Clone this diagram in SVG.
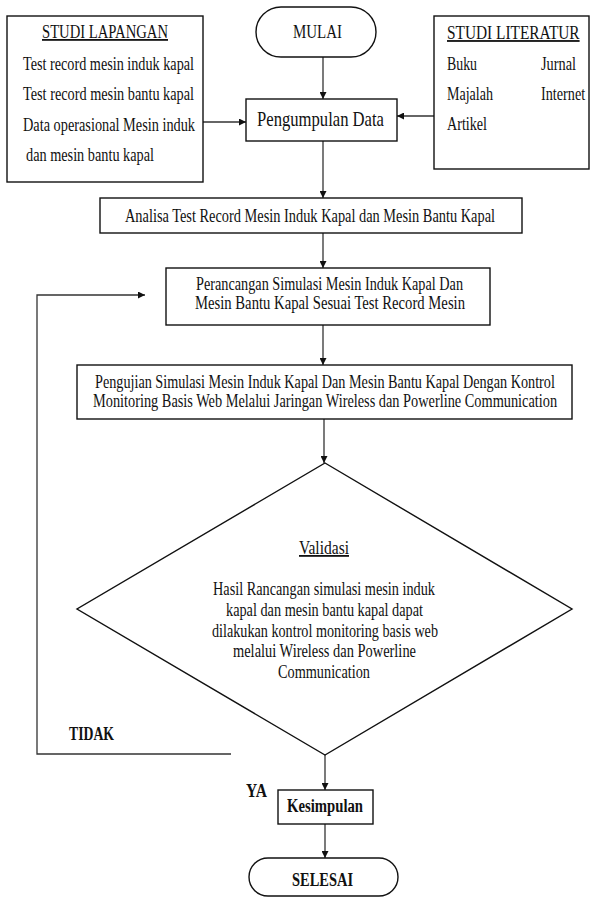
<svg xmlns="http://www.w3.org/2000/svg" width="591" height="897" viewBox="0 0 591 897">
<defs>
<style>
.bx{fill:#fff;stroke:#111;stroke-width:1.4}
.t{font-family:"Liberation Serif","Times New Roman",serif;fill:#111;font-size:18px}
.tb{font-weight:bold}
.u{text-decoration:underline}
.c{stroke:#333;stroke-width:1.3;fill:none}
</style>
<marker id="ah" viewBox="0 0 10 10" refX="10" refY="5" markerWidth="7" markerHeight="7" markerUnits="userSpaceOnUse" orient="auto">
<path d="M0,0 L10,5 L0,10 z" fill="#111"/>
</marker>
</defs>
<rect width="591" height="897" fill="#fff"/>
<g id="connectors">
<line class="c" x1="323" y1="57" x2="323" y2="99" marker-end="url(#ah)"/>
<line class="c" x1="203" y1="122" x2="246" y2="122" marker-end="url(#ah)"/>
<line class="c" x1="434" y1="116" x2="397" y2="116" marker-end="url(#ah)"/>
<line class="c" x1="323" y1="141" x2="323" y2="198" marker-end="url(#ah)"/>
<line class="c" x1="323" y1="233" x2="323" y2="268" marker-end="url(#ah)"/>
<line class="c" x1="323" y1="325" x2="323" y2="365" marker-end="url(#ah)"/>
<line class="c" x1="324" y1="419" x2="324" y2="463" marker-end="url(#ah)"/>
<polyline class="c" points="231,754 37,754 37,295 145,295" marker-end="url(#ah)"/>
<line class="c" x1="325" y1="755" x2="325" y2="790" marker-end="url(#ah)"/>
<line class="c" x1="325" y1="824" x2="325" y2="858" marker-end="url(#ah)"/>
</g>
<g id="studi-lapangan">
<rect class="bx" x="7" y="16" width="196" height="166"/>
<text class="t u" x="42" y="38" textLength="126" lengthAdjust="spacingAndGlyphs">STUDI LAPANGAN</text>
<text class="t" x="23" y="70" textLength="171" lengthAdjust="spacingAndGlyphs">Test record mesin induk kapal</text>
<text class="t" x="23" y="100" textLength="171" lengthAdjust="spacingAndGlyphs">Test record mesin bantu kapal</text>
<text class="t" x="23" y="131" textLength="172" lengthAdjust="spacingAndGlyphs">Data operasional Mesin induk</text>
<text class="t" x="26" y="161" textLength="128" lengthAdjust="spacingAndGlyphs">dan mesin bantu kapal</text>
</g>
<g id="mulai">
<rect class="bx" x="256" y="7" width="120" height="50" rx="25" ry="25"/>
<text class="t" x="293" y="38" textLength="49" lengthAdjust="spacingAndGlyphs">MULAI</text>
</g>
<g id="studi-literatur">
<rect class="bx" x="434" y="16" width="155" height="153"/>
<text class="t u" transform="translate(447,39) scale(0.85,1)" x="0" y="0" textLength="156" lengthAdjust="spacingAndGlyphs">STUDI LITERATUR</text>
<text class="t" x="447" y="70" textLength="30" lengthAdjust="spacingAndGlyphs">Buku</text>
<text class="t" x="541" y="70" textLength="35" lengthAdjust="spacingAndGlyphs">Jurnal</text>
<text class="t" x="447" y="100" textLength="46" lengthAdjust="spacingAndGlyphs">Majalah</text>
<text class="t" transform="translate(541,100) scale(0.85,1)" x="0" y="0" textLength="52" lengthAdjust="spacingAndGlyphs">Internet</text>
<text class="t" x="447" y="130" textLength="40" lengthAdjust="spacingAndGlyphs">Artikel</text>
</g>
<g id="pengumpulan">
<rect class="bx" x="246" y="99" width="151" height="42"/>
<text class="t" x="257" y="126" style="font-size:21px" textLength="127" lengthAdjust="spacingAndGlyphs">Pengumpulan Data</text>
</g>
<g id="analisa">
<rect class="bx" x="100" y="198" width="422" height="35"/>
<text class="t" x="125" y="222" textLength="370" lengthAdjust="spacingAndGlyphs">Analisa Test Record Mesin Induk Kapal dan Mesin Bantu Kapal</text>
</g>
<g id="perancangan">
<rect class="bx" x="166" y="268" width="324" height="57"/>
<text class="t" x="196" y="290" textLength="267" lengthAdjust="spacingAndGlyphs">Perancangan Simulasi Mesin Induk Kapal Dan</text>
<text class="t" x="195" y="309" textLength="270" lengthAdjust="spacingAndGlyphs">Mesin Bantu Kapal Sesuai Test Record Mesin</text>
</g>
<g id="pengujian">
<rect class="bx" x="77" y="365" width="495" height="54"/>
<text class="t" transform="translate(95,388) scale(0.85,1)" x="0" y="0" textLength="541" lengthAdjust="spacingAndGlyphs">Pengujian Simulasi Mesin Induk Kapal Dan Mesin Bantu Kapal Dengan Kontrol</text>
<text class="t" transform="translate(93,407) scale(0.85,1)" x="0" y="0" textLength="546" lengthAdjust="spacingAndGlyphs">Monitoring Basis Web Melalui Jaringan Wireless dan Powerline Communication</text>
</g>
<g id="validasi">
<polygon class="bx" points="325,463 572,609 325,755 77,609"/>
<text class="t u" x="299" y="554" textLength="50" lengthAdjust="spacingAndGlyphs">Validasi</text>
<text class="t" x="213" y="595" textLength="222" lengthAdjust="spacingAndGlyphs">Hasil Rancangan simulasi mesin induk</text>
<text class="t" x="226" y="616" textLength="197" lengthAdjust="spacingAndGlyphs">kapal dan mesin bantu kapal dapat</text>
<text class="t" x="212" y="637" textLength="226" lengthAdjust="spacingAndGlyphs">dilakukan kontrol monitoring basis web</text>
<text class="t" x="233" y="657" textLength="183" lengthAdjust="spacingAndGlyphs">melalui Wireless dan Powerline</text>
<text class="t" x="278" y="678" textLength="92" lengthAdjust="spacingAndGlyphs">Communication</text>
</g>
<g id="label-tidak">
<text class="t tb" x="69" y="740" textLength="45" lengthAdjust="spacingAndGlyphs">TIDAK</text>
</g>
<g id="label-ya">
<text class="t tb" x="246" y="797" textLength="21" lengthAdjust="spacingAndGlyphs">YA</text>
</g>
<g id="kesimpulan">
<rect class="bx" x="278" y="790" width="95" height="34"/>
<text class="t tb" x="287" y="812" textLength="76" lengthAdjust="spacingAndGlyphs">Kesimpulan</text>
</g>
<g id="selesai">
<rect class="bx" x="249" y="858" width="149" height="38" rx="19" ry="19"/>
<text class="t tb" x="292" y="886" textLength="61" lengthAdjust="spacingAndGlyphs">SELESAI</text>
</g>
</svg>
